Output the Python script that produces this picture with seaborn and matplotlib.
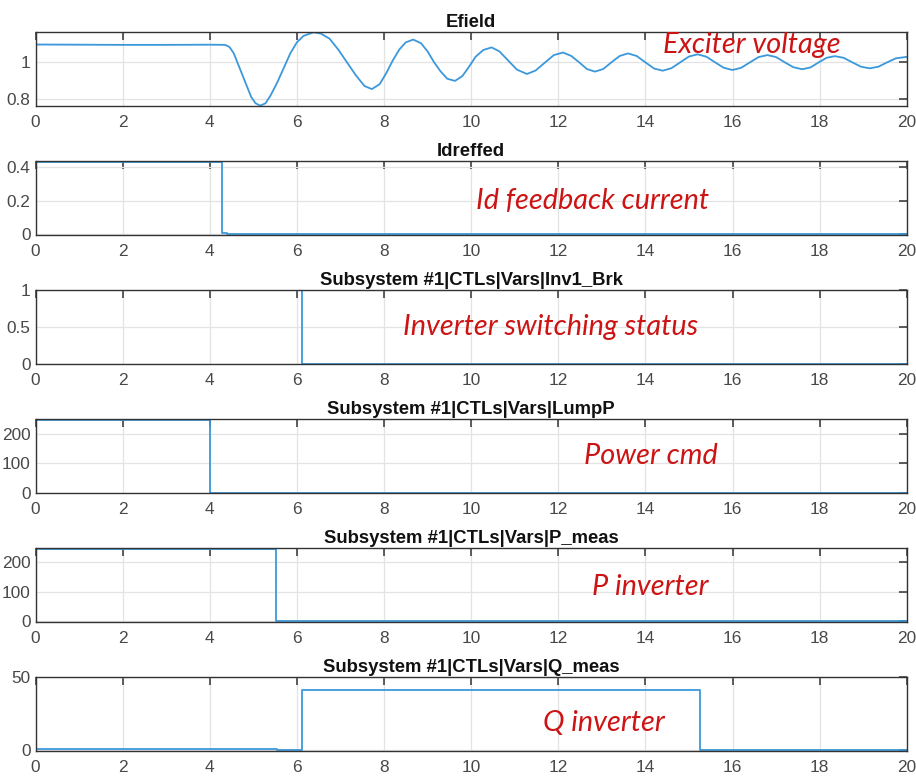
import numpy as np
import pandas as pd
import matplotlib
matplotlib.use('Agg')
import matplotlib.pyplot as plt
import seaborn as sns

# Efield (exciter voltage)
efield_t = [0.0, 1.0, 2.0, 3.0, 4.0, 4.35, 4.45, 4.55, 4.65, 4.75, 4.85, 4.95, 5.05, 5.16,
            5.28, 5.40, 5.55, 5.70, 5.85, 6.00, 6.15, 6.38, 6.55, 6.75, 6.95, 7.15, 7.35,
            7.55, 7.72, 7.90, 8.05, 8.20, 8.35, 8.50, 8.67, 8.85, 9.00, 9.15, 9.30, 9.45,
            9.63, 9.80, 9.95, 10.10, 10.28, 10.47, 10.65, 10.85, 11.05, 11.28, 11.48, 11.70,
            11.90, 12.11, 12.30, 12.48, 12.66, 12.84, 13.03, 13.22, 13.41, 13.60, 13.80,
            14.00, 14.20, 14.40, 14.60, 14.80, 15.00, 15.20, 15.40, 15.60, 15.80, 16.00,
            16.20, 16.40, 16.60, 16.80, 17.00, 17.20, 17.40, 17.60, 17.79, 17.98, 18.16,
            18.35, 18.55, 18.75, 18.95, 19.15, 19.35, 19.55, 19.75, 20.00]
efield_v = [1.098, 1.097, 1.096, 1.096, 1.097, 1.096, 1.085, 1.05, 0.99, 0.93, 0.87, 0.81,
            0.775, 0.762, 0.775, 0.82, 0.89, 0.97, 1.05, 1.11, 1.145, 1.165, 1.158, 1.13,
            1.07, 1.00, 0.93, 0.87, 0.853, 0.88, 0.94, 1.01, 1.07, 1.11, 1.125, 1.105, 1.06,
            1.00, 0.95, 0.91, 0.898, 0.925, 0.975, 1.03, 1.068, 1.082, 1.06, 1.01, 0.96,
            0.936, 0.955, 1.00, 1.04, 1.054, 1.035, 1.0, 0.963, 0.949, 0.963, 1.0, 1.035,
            1.049, 1.035, 1.0, 0.966, 0.954, 0.968, 1.0, 1.032, 1.044, 1.031, 1.0, 0.97,
            0.958, 0.97, 1.0, 1.029, 1.04, 1.029, 1.0, 0.973, 0.962, 0.972, 1.0, 1.025,
            1.034, 1.025, 1.0, 0.976, 0.967, 0.976, 1.0, 1.022, 1.03]

# step signals (steps-post)
idref_t = [0.0, 4.24, 4.28, 4.40, 20.0]
idref_v = [0.43, 0.43, 0.01, 0.001, 0.001]
brk_t = [0.0, 6.12, 20.0]
brk_v = [1, 0, 0]
lump_t = [0.0, 4.0, 20.0]
lump_v = [250, 0, 0]
pmeas_t = [0.0, 5.53, 20.0]
pmeas_v = [245, 0, 0]
qmeas_t = [0.0, 5.55, 6.12, 15.25, 20.0]
qmeas_v = [0.8, -0.3, 41.3, 0.0, 0.0]

titles = ['Efield', 'Idreffed', 'Subsystem #1|CTLs|Vars|Inv1_Brk',
          'Subsystem #1|CTLs|Vars|LumpP', 'Subsystem #1|CTLs|Vars|P_meas',
          'Subsystem #1|CTLs|Vars|Q_meas']
notes = ['Exciter voltage', 'Id feedback current', 'Inverter switching status',
         'Power cmd', 'P inverter', 'Q inverter']
note_xy = [(14.4, 1.094), (10.1, 0.2), (8.44, 0.5), (12.6, 125), (12.77, 115), (11.64, 18.6)]
ylims = [(0.762, 1.165), (-0.002, 0.433), (0, 1), (0, 251), (-1.5, 246), (-0.5, 50)]
yticks = [[0.8, 1], [0, 0.2, 0.4], [0, 0.5, 1], [0, 100, 200], [0, 100, 200], [0, 50]]
ytick_labels = [['0.8', '1'], ['0', '0.2', '0.4'], ['0', '0.5', '1'],
                ['0', '100', '200'], ['0', '100', '200'], ['0', '50']]
xticks = list(range(0, 21, 2))

series = [(efield_t, efield_v, 'default'), (idref_t, idref_v, 'steps-post'),
          (brk_t, brk_v, 'steps-post'), (lump_t, lump_v, 'steps-post'),
          (pmeas_t, pmeas_v, 'steps-post'), (qmeas_t, qmeas_v, 'steps-post')]

sns.set_style('white')
plt.rcParams['font.family'] = ['Liberation Sans', 'DejaVu Sans']

line_col = '#3b98da'
fig, axes = plt.subplots(6, 1, figsize=(9.16, 7.77), dpi=100)
fig.subplots_adjust(left=0.0388, right=0.9899, top=0.9584, bottom=0.0338, hspace=0.76)

for i, ax in enumerate(axes):
    t, v, ds = series[i]
    df = pd.DataFrame({'t': t, 'v': v})
    sns.lineplot(data=df, x='t', y='v', ax=ax, color=line_col, linewidth=1.3,
                 estimator=None, sort=False, drawstyle=ds)
    ax.set_xlim(0, 20)
    ax.set_ylim(*ylims[i])
    ax.set_xticks(xticks)
    ax.set_xticklabels([str(x) for x in xticks])
    ax.set_yticks(yticks[i])
    ax.set_yticklabels(ytick_labels[i])
    ax.set_xlabel('')
    ax.set_ylabel('')
    ax.grid(True, color='#e3e3e3', linewidth=0.9)
    ax.set_axisbelow(True)
    ax.tick_params(direction='in', length=6, width=1.1, color='#333333',
                   labelsize=12.4, labelcolor='#484848', top=True, right=True)
    ax.tick_params(axis='x', pad=6.5)
    ax.tick_params(axis='y', pad=3.5)
    for s in ax.spines.values():
        s.set_visible(True)
        s.set_color('#333333')
        s.set_linewidth(1.0)
    ax.set_title(titles[i], fontsize=13.3, fontweight='bold', color='#111111', pad=4)
    ax.text(note_xy[i][0], note_xy[i][1], notes[i], color='#cc1414', fontsize=20.8,
            style='italic', family=['Lato', 'DejaVu Sans'], va='center', ha='left')

fig.savefig('out.png', dpi=100)
